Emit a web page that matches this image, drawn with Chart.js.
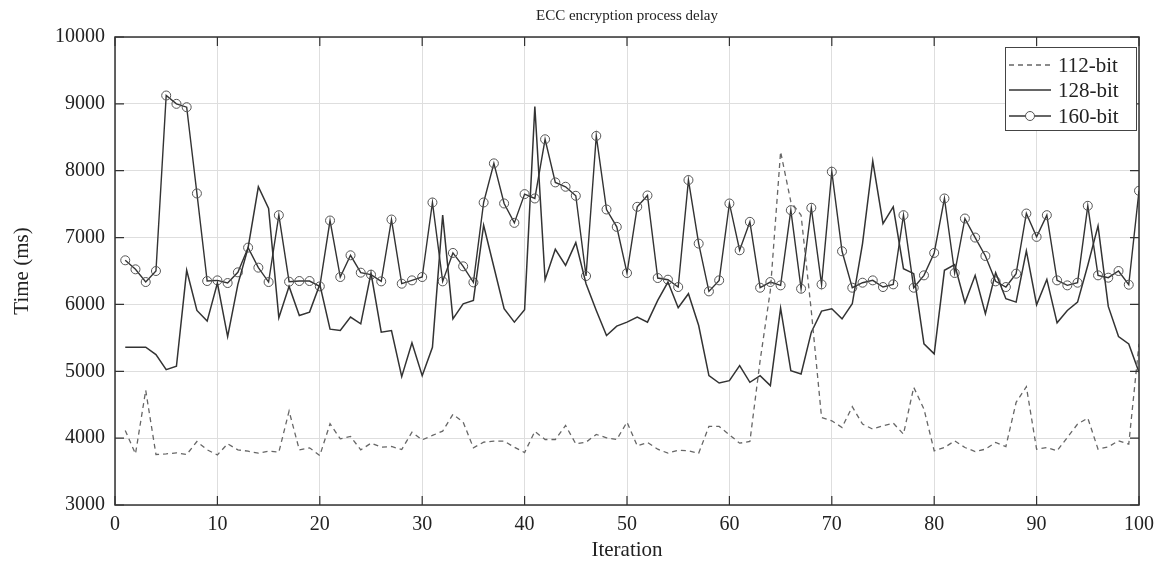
<!DOCTYPE html>
<html>
<head>
<meta charset="utf-8">
<title>ECC encryption process delay</title>
<script src="https://cdn.jsdelivr.net/npm/chart.js@4.4.1/dist/chart.umd.min.js"></script>
<style>
    html, body { margin: 0; padding: 0; background: #fff; }
    #wrap { width: 1162px; height: 564px; }
</style>
</head>
<body>
<div id="wrap"><canvas id="chart" width="1162" height="564"></canvas></div>
<script>
// iterations 1..100
const iterations = [];
for (let i = 1; i <= 100; i++) iterations.push(i);

const xTicks = [0, 10, 20, 30, 40, 50, 60, 70, 80, 90, 100];
const yTicks = [3000, 4000, 5000, 6000, 7000, 8000, 9000, 10000];

const chartTitle = "ECC encryption process delay";
const seriesNames = ["112-bit", "128-bit", "160-bit"];

const bit112 = [
    4115, 3765, 4715, 3755, 3765, 3780, 3755, 3950, 3825, 3750,
    3915, 3825, 3805, 3775, 3805, 3790, 4405, 3825, 3855, 3740,
    4215, 3990, 4025, 3825, 3925, 3865, 3875, 3830, 4090, 3975,
    4040, 4105, 4355, 4240, 3855, 3940, 3955, 3955, 3865, 3785,
    4100, 3980, 3980, 4190, 3915, 3940, 4055, 4005, 3980, 4240,
    3885, 3935, 3835, 3775, 3820, 3810, 3775, 4175, 4175, 4050,
    3925, 3950, 5160, 6210, 8285, 7535, 7335, 5900, 4310, 4260,
    4160, 4470, 4210, 4135, 4185, 4225, 4060, 4760, 4435, 3810,
    3860, 3960, 3860, 3800, 3835, 3935, 3875, 4535, 4770, 3835,
    3860, 3810, 4010, 4210, 4300, 3835, 3870, 3960, 3910, 5410
];

const bit128 = [
    5360, 5360, 5360, 5250, 5025, 5075, 6510, 5910, 5750, 6320,
    5520, 6300, 6850, 7760, 7435, 5800, 6270, 5835, 5885, 6300,
    5630, 5610, 5810, 5710, 6470, 5585, 5610, 4920, 5425, 4935,
    5360, 7335, 5785, 6010, 6060, 7185, 6560, 5935, 5735, 5920,
    8960, 6370, 6825, 6585, 6925, 6310, 5910, 5535, 5675, 5735,
    5810, 5735, 6060, 6335, 5950, 6160, 5685, 4935, 4825, 4860,
    5085, 4835, 4935, 4785, 5945, 5010, 4960, 5585, 5900, 5935,
    5785, 6010, 6910, 8145, 7210, 7460, 6535, 6460, 5410, 5260,
    6510, 6595, 6025, 6435, 5860, 6475, 6085, 6035, 6800, 5995,
    6375, 5725, 5910, 6035, 6585, 7175, 5970, 5520, 5410, 4985
];

const bit160 = [
    6660, 6525, 6335, 6500, 9125, 9000, 8950, 7660, 6350, 6360,
    6320, 6480, 6850, 6550, 6335, 7335, 6340, 6350, 6350, 6270,
    7255, 6410, 6735, 6475, 6445, 6345, 7270, 6310, 6360, 6410,
    7525, 6345, 6770, 6570, 6330, 7525, 8110, 7510, 7220, 7650,
    7585, 8470, 7825, 7760, 7625, 6425, 8520, 7420, 7160, 6470,
    7460, 7630, 6395, 6370, 6260, 7860, 6910, 6195, 6360, 7510,
    6810, 7235, 6250, 6335, 6285, 7410, 6235, 7445, 6300, 7985,
    6795, 6250, 6325, 6360, 6260, 6300, 7335, 6250, 6435, 6770,
    7585, 6470, 7285, 7000, 6725, 6345, 6260, 6460, 7360, 7010,
    7335, 6360, 6285, 6325, 7475, 6435, 6400, 6500, 6295, 7700
];

const serif = "'Liberation Serif', 'DejaVu Serif', serif";

function toPoints(values) {
    return values.map((v, i) => ({ x: iterations[i], y: v }));
}

// title over the plot, frame, inward tick marks and the boxed legend
const framePlugin = {
    id: "frame",
    afterDraw(chart) {
        const ctx = chart.ctx;
        const area = chart.chartArea;
        const xs = chart.scales.x;
        const ys = chart.scales.y;
        const tl = 9;
        ctx.save();

        ctx.fillStyle = "#222";
        ctx.font = "15px " + serif;
        ctx.textAlign = "center";
        ctx.textBaseline = "middle";
        ctx.fillText(chartTitle, (area.left + area.right) / 2, 16);

        ctx.strokeStyle = "#333";
        ctx.lineWidth = 1.5;
        ctx.strokeRect(area.left, area.top, area.right - area.left, area.bottom - area.top);
        ctx.lineWidth = 1.2;
        ctx.beginPath();
        xTicks.forEach(v => {
            const px = xs.getPixelForValue(v);
            ctx.moveTo(px, area.bottom);
            ctx.lineTo(px, area.bottom - tl);
            ctx.moveTo(px, area.top);
            ctx.lineTo(px, area.top + tl);
        });
        yTicks.forEach(v => {
            const py = ys.getPixelForValue(v);
            ctx.moveTo(area.left, py);
            ctx.lineTo(area.left + tl, py);
            ctx.moveTo(area.right, py);
            ctx.lineTo(area.right - tl, py);
        });
        ctx.stroke();

        // legend
        const bx = 1005.5, by = 47.5, bw = 131, bh = 83;
        ctx.fillStyle = "#fff";
        ctx.fillRect(bx, by, bw, bh);
        ctx.strokeStyle = "#444";
        ctx.lineWidth = 1;
        ctx.strokeRect(bx, by, bw, bh);
        const rows = [65, 90, 116];
        chart.data.datasets.forEach((ds, i) => {
            const y = rows[i];
            ctx.strokeStyle = ds.borderColor;
            ctx.lineWidth = ds.borderWidth;
            ctx.setLineDash(ds.borderDash || []);
            ctx.beginPath();
            ctx.moveTo(1009, y);
            ctx.lineTo(1051, y);
            ctx.stroke();
            ctx.setLineDash([]);
            if (ds.pointRadius > 0) {
                ctx.beginPath();
                ctx.fillStyle = "#fff";
                ctx.arc(1030, y, ds.pointRadius, 0, Math.PI * 2);
                ctx.fill();
                ctx.strokeStyle = ds.pointBorderColor;
                ctx.lineWidth = ds.pointBorderWidth;
                ctx.stroke();
            }
            ctx.fillStyle = "#222";
            ctx.font = "21px " + serif;
            ctx.textAlign = "left";
            ctx.textBaseline = "middle";
            ctx.fillText(ds.label, 1058, y + 1);
        });
        ctx.restore();
    }
};

new Chart(document.getElementById("chart"), {
    type: "line",
    data: {
        datasets: [
            {
                label: seriesNames[0],
                data: toPoints(bit112),
                borderColor: "#666",
                borderWidth: 1.3,
                borderDash: [5, 4],
                pointRadius: 0,
                tension: 0
            },
            {
                label: seriesNames[1],
                data: toPoints(bit128),
                borderColor: "#333",
                borderWidth: 1.5,
                pointRadius: 0,
                tension: 0
            },
            {
                label: seriesNames[2],
                data: toPoints(bit160),
                borderColor: "#333",
                borderWidth: 1.4,
                pointRadius: 4.5,
                pointBackgroundColor: "rgba(255,255,255,0)",
                pointBorderColor: "#555",
                pointBorderWidth: 1,
                tension: 0
            }
        ]
    },
    options: {
        responsive: false,
        animation: false,
        layout: { padding: { left: 0, right: 23, top: 37, bottom: 0 } },
        plugins: {
            legend: { display: false },
            tooltip: { enabled: false },
            title: { display: false }
        },
        scales: {
            x: {
                type: "linear",
                min: 0,
                max: 100,
                afterFit(scale) { scale.height = 59; },
                afterBuildTicks(scale) { scale.ticks = xTicks.map(v => ({ value: v })); },
                grid: { color: "#dedede", lineWidth: 1, drawTicks: false },
                border: { display: false },
                ticks: {
                    color: "#222",
                    padding: 8,
                    maxRotation: 0,
                    font: { family: serif, size: 20 },
                    callback: v => String(v)
                },
                title: {
                    display: true,
                    text: "Iteration",
                    color: "#222",
                    font: { family: serif, size: 21 },
                    padding: { top: 0, bottom: 1 }
                }
            },
            y: {
                min: 3000,
                max: 10000,
                afterFit(scale) { scale.width = 115; },
                afterBuildTicks(scale) { scale.ticks = yTicks.map(v => ({ value: v })); },
                grid: { color: "#dedede", lineWidth: 1, drawTicks: false },
                border: { display: false },
                ticks: {
                    color: "#222",
                    padding: 10,
                    font: { family: serif, size: 20 },
                    callback: v => String(v)
                },
                title: {
                    display: true,
                    text: "Time (ms)",
                    color: "#222",
                    font: { family: serif, size: 21 },
                    padding: { top: 10, bottom: 0 }
                }
            }
        }
    },
    plugins: [framePlugin]
});
</script>
</body>
</html>
